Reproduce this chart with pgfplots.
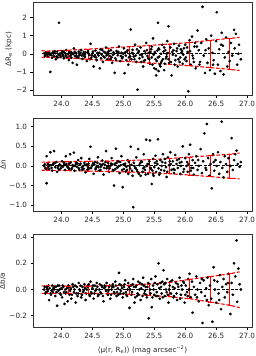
\documentclass[border=0pt]{standalone}
\usepackage{fontspec}
\setmainfont{DejaVu Sans}
\usepackage{pgfplots}
\usepackage{pgfplotstable}
\pgfplotsset{compat=1.18}

\pgfplotstableread[row sep=\\]{x y\\
23.72 0.02\\ 23.74 -0.08\\ 23.76 0.05\\ 23.78 -0.15\\ 23.80 0.10\\ 23.81 -0.05\\ 23.83 0.0\\ 23.85 -0.22\\ 23.86 0.08\\ 23.88 -0.12\\ 23.90 0.03\\ 23.91 -0.3\\ 23.93 0.12\\ 23.95 -0.06\\ 23.96 1.71\\ 23.82 -1.0\\ 23.97 0.0\\ 23.99 -0.18\\ 24.01 0.15\\ 24.02 -0.04\\ 24.04 -0.25\\ 24.05 0.06\\ 24.07 -0.1\\ 24.08 0.2\\ 24.10 -0.02\\ 24.12 -0.35\\ 24.13 0.1\\ 24.15 -0.08\\ 24.17 0.02\\ 24.18 -0.5\\ 24.20 0.3\\ 24.22 -0.14\\ 24.23 0.05\\ 24.25 -0.6\\ 24.27 -0.2\\ 24.28 0.12\\ 24.30 -0.05\\ 24.32 0.2\\ 24.34 -0.28\\ 24.35 0.0\\ 24.37 -0.12\\ 24.39 0.08\\ 24.41 -0.4\\ 24.43 0.15\\ 24.45 -0.06\\ 24.47 0.55\\ 24.48 -0.22\\ 24.50 0.02\\ 24.52 -0.7\\ 24.53 -0.15\\ 24.55 0.18\\ 24.57 -0.35\\ 24.58 0.05\\ 24.60 -0.1\\ 24.62 -0.8\\ 24.63 0.25\\ 24.65 -0.05\\ 24.67 -0.45\\ 24.69 0.1\\ 24.70 -0.2\\ 24.72 0.35\\ 24.74 -0.3\\ 24.76 0.0\\ 24.78 -0.12\\ 24.80 0.2\\ 24.82 -0.5\\ 24.84 0.08\\ 24.86 -1.05\\ 24.87 -0.25\\ 24.89 0.15\\ 24.91 -0.08\\ 24.93 0.4\\ 24.95 -0.4\\ 24.97 0.05\\ 24.99 -0.18\\ 25.01 0.3\\ 25.02 -1.07\\ 25.04 -0.1\\ 25.06 0.12\\ 25.08 -0.6\\ 25.10 0.0\\ 25.12 1.34\\ 25.13 -0.3\\ 25.15 0.22\\ 25.17 -0.15\\ 25.19 0.5\\ 25.21 -0.45\\ 25.23 -1.98\\ 25.24 0.08\\ 25.26 -0.25\\ 25.28 0.35\\ 25.30 -0.05\\ 25.32 -0.7\\ 25.34 0.15\\ 25.35 -0.35\\ 25.37 0.6\\ 25.39 -0.12\\ 25.41 0.05\\ 25.43 -0.55\\ 25.45 0.25\\ 25.46 -0.2\\ 25.48 0.85\\ 25.50 -0.8\\ 25.51 0.1\\ 25.53 -1.19\\ 25.54 -0.4\\ 25.56 1.71\\ 25.57 0.3\\ 25.59 -0.6\\ 25.61 0.0\\ 25.63 0.5\\ 25.64 -0.3\\ 25.66 -0.9\\ 25.68 0.2\\ 25.70 -0.15\\ 25.71 0.7\\ 25.73 1.52\\ 25.74 -0.5\\ 25.76 0.35\\ 25.78 -1.19\\ 25.80 -0.05\\ 25.82 0.55\\ 25.84 -0.35\\ 25.86 0.15\\ 25.88 -0.7\\ 25.90 0.45\\ 25.92 -0.2\\ 25.94 0.05\\ 25.96 -0.55\\ 25.98 0.3\\ 26.00 0.5\\ 26.02 -0.4\\ 26.04 0.1\\ 26.05 -2.07\\ 26.07 0.75\\ 26.09 -0.6\\ 26.11 0.95\\ 26.13 -0.25\\ 26.15 0.4\\ 26.17 -0.8\\ 26.20 1.28\\ 26.22 0.2\\ 26.24 -0.45\\ 26.26 0.6\\ 26.28 2.59\\ 26.30 -0.1\\ 26.32 -1.06\\ 26.34 0.8\\ 26.36 -0.5\\ 26.38 0.3\\ 26.40 -0.9\\ 26.42 1.0\\ 26.44 0.05\\ 26.46 -0.35\\ 26.48 -1.1\\ 26.50 0.7\\ 26.51 2.29\\ 26.53 -0.6\\ 26.55 0.25\\ 26.57 -0.95\\ 26.59 1.16\\ 26.61 0.45\\ 26.62 -1.14\\ 26.64 -0.2\\ 26.66 0.9\\ 26.68 -0.7\\ 26.70 0.1\\ 26.72 -0.4\\ 26.74 0.6\\ 26.76 -0.1\\ 26.79 1.32\\ 26.80 0.3\\ 26.82 1.1\\ 26.84 -0.6\\ 26.86 0.0\\ 26.87 0.5\\ 26.90 -0.3\\
24.06 0.02\\ 24.14 -0.12\\ 24.24 0.04\\ 24.33 -0.1\\ 24.44 0.02\\ 24.54 -0.08\\ 24.61 0.06\\ 24.68 -0.15\\ 24.75 0.1\\ 24.83 -0.06\\ 24.90 0.05\\ 24.96 -0.12\\ 25.03 0.08\\ 25.09 -0.2\\ 25.14 0.05\\ 25.20 -0.1\\ 25.25 0.15\\ 25.31 -0.18\\ 25.36 0.02\\ 25.40 -0.25\\ 25.44 0.1\\ 25.49 -0.05\\ 25.52 -0.3\\ 25.55 0.18\\ 25.58 -0.15\\ 25.62 -0.4\\ 25.65 0.12\\ 25.69 -0.25\\ 25.72 0.05\\ 25.77 -0.45\\ 25.81 0.2\\ 25.85 -0.1\\ 25.89 -0.3\\ 25.93 0.25\\ 25.97 -0.05\\ 26.01 -0.2\\ 26.08 0.15\\ 26.14 -0.45\\ 26.19 0.4\\ 25.47 -0.6\\ 25.60 -0.7\\ 25.67 -0.55\\ 25.33 -0.4\\ 25.53 -0.85\\ 25.57 -0.95\\ 24.79 -0.3\\ 24.66 0.2\\ 24.46 -0.3\\ 24.36 0.1\\ 24.26 -0.2\\ 24.16 0.08\\ 23.98 -0.1\\ 23.87 0.02\\ 23.77 -0.04\\ 23.92 -0.15\\ 24.03 0.1\\ 24.09 -0.2\\ 24.19 -0.02\\ 24.29 -0.08\\ 24.38 -0.02\\
23.73 -0.12\\ 23.75 0.08\\ 23.79 0.0\\ 23.84 -0.08\\ 23.89 0.14\\ 23.94 -0.2\\ 24.00 0.05\\ 24.03 -0.14\\ 24.11 0.0\\ 24.16 -0.22\\ 24.21 0.1\\ 24.24 -0.1\\ 24.31 0.05\\ 24.38 -0.18\\ 24.42 0.06\\ 24.49 -0.1\\ 24.51 0.12\\ 24.56 -0.2\\ 24.59 0.0\\ 24.64 -0.25\\ 24.71 0.05\\ 24.73 -0.08\\ 24.77 0.15\\ 24.81 -0.2\\ 24.85 0.0\\ 24.88 -0.35\\ 24.92 0.1\\ 24.98 -0.25\\ 25.00 0.0\\ 25.05 -0.35\\ 25.07 0.2\\ 25.11 -0.15\\ 25.16 0.0\\ 25.18 -0.3\\ 25.22 0.25\\ 25.27 -0.05\\ 25.29 -0.45\\ 25.38 0.2\\ 25.42 -0.3\\ 25.46 0.4\\ 25.50 0.0\\ 25.56 -0.2\\ 25.58 0.25\\ 25.61 -0.5\\ 25.66 0.35\\ 25.70 0.0\\ 25.73 -0.3\\ 25.79 0.1\\ 25.83 -0.6\\ 25.87 0.3\\ 25.91 -0.45\\ 25.95 0.15\\ 25.99 -0.3\\ 26.03 0.35\\ 26.12 -0.1\\ 26.16 0.6\\ 26.23 -0.6\\ 26.33 0.2\\ 26.45 -0.6\\ 26.58 0.5\\
}\dataA

\pgfplotstableread[row sep=\\]{x y\\
23.72 0.0\\ 23.74 -0.05\\ 23.76 0.25\\ 23.76 -0.44\\ 23.78 0.05\\ 23.80 -0.08\\ 23.82 0.35\\ 23.83 0.02\\ 23.85 -0.12\\ 23.87 0.06\\ 23.88 0.38\\ 23.90 -0.03\\ 23.92 0.1\\ 23.93 -0.15\\ 23.95 0.0\\ 23.97 0.04\\ 23.99 -0.06\\ 24.01 0.12\\ 24.02 -0.02\\ 24.04 0.08\\ 24.06 -0.1\\ 24.07 0.25\\ 24.09 0.0\\ 24.11 -0.04\\ 24.13 0.06\\ 24.14 0.3\\ 24.16 -0.08\\ 24.18 0.02\\ 24.20 0.34\\ 24.21 -0.12\\ 24.23 0.05\\ 24.25 -0.02\\ 24.27 0.15\\ 24.28 -0.06\\ 24.30 0.03\\ 24.32 0.2\\ 24.34 -0.1\\ 24.35 0.0\\ 24.37 0.08\\ 24.39 -0.16\\ 24.41 0.04\\ 24.43 -0.03\\ 24.45 0.18\\ 24.47 0.49\\ 24.48 -0.05\\ 24.50 0.02\\ 24.52 -0.2\\ 24.54 0.1\\ 24.55 -0.08\\ 24.57 0.0\\ 24.59 0.22\\ 24.61 -0.12\\ 24.62 0.05\\ 24.64 -0.02\\ 24.66 0.14\\ 24.68 -0.22\\ 24.70 0.03\\ 24.72 0.38\\ 24.73 -0.06\\ 24.75 0.08\\ 24.77 -0.15\\ 24.79 0.0\\ 24.81 0.2\\ 24.83 -0.1\\ 24.85 -0.5\\ 24.86 0.05\\ 24.88 0.44\\ 24.90 -0.04\\ 24.92 0.12\\ 24.94 -0.18\\ 24.96 0.02\\ 24.97 0.25\\ 24.99 -0.54\\ 25.01 -0.08\\ 25.03 0.06\\ 25.05 -0.02\\ 25.07 0.15\\ 25.08 -0.2\\ 25.10 0.0\\ 25.12 0.49\\ 25.14 -0.12\\ 25.16 -1.05\\ 25.17 0.08\\ 25.19 -0.05\\ 25.21 0.22\\ 25.23 -0.15\\ 25.24 0.43\\ 25.26 0.02\\ 25.28 -0.25\\ 25.30 0.1\\ 25.32 -0.06\\ 25.33 0.3\\ 25.35 -0.1\\ 25.37 0.67\\ 25.38 0.0\\ 25.40 -0.2\\ 25.42 0.12\\ 25.43 0.65\\ 25.45 -0.08\\ 25.46 -0.46\\ 25.48 0.18\\ 25.50 -0.03\\ 25.52 0.26\\ 25.53 -0.15\\ 25.55 0.05\\ 25.56 0.68\\ 25.58 -0.22\\ 25.60 0.15\\ 25.62 0.0\\ 25.64 0.3\\ 25.66 -0.12\\ 25.68 0.08\\ 25.70 -0.28\\ 25.72 0.22\\ 25.74 0.02\\ 25.76 0.35\\ 25.78 -0.1\\ 25.80 0.12\\ 25.82 -0.18\\ 25.84 0.28\\ 25.86 0.05\\ 25.88 -0.05\\ 25.90 0.18\\ 25.92 -0.2\\ 25.94 0.1\\ 25.96 0.5\\ 25.98 -0.08\\ 26.00 0.2\\ 26.02 0.0\\ 26.04 -0.15\\ 26.06 0.3\\ 26.08 0.54\\ 26.10 -0.05\\ 26.12 0.15\\ 26.14 -0.22\\ 26.16 0.08\\ 26.18 0.25\\ 26.20 -0.1\\ 26.22 0.0\\ 26.25 0.43\\ 26.27 -0.18\\ 26.29 0.12\\ 26.31 0.83\\ 26.33 -0.05\\ 26.35 1.07\\ 26.37 0.2\\ 26.39 -0.25\\ 26.41 0.05\\ 26.43 -0.57\\ 26.45 0.3\\ 26.47 -0.12\\ 26.49 0.15\\ 26.51 0.0\\ 26.53 0.35\\ 26.55 -0.2\\ 26.57 0.1\\ 26.59 1.13\\ 26.60 -0.05\\ 26.62 -0.29\\ 26.64 0.25\\ 26.66 0.05\\ 26.68 -0.15\\ 26.70 0.2\\ 26.73 0.0\\ 26.75 0.71\\ 26.77 -0.1\\ 26.79 0.15\\ 26.81 0.3\\ 26.83 0.39\\ 26.85 0.05\\ 26.88 -0.02\\ 26.90 0.1\\
23.79 -0.02\\ 23.86 0.03\\ 23.94 -0.05\\ 24.00 0.0\\ 24.05 0.03\\ 24.12 -0.07\\ 24.19 0.0\\ 24.26 0.06\\ 24.33 -0.04\\ 24.40 0.02\\ 24.46 -0.06\\ 24.53 0.04\\ 24.60 -0.03\\ 24.67 0.05\\ 24.74 -0.02\\ 24.80 0.06\\ 24.87 -0.08\\ 24.93 0.0\\ 25.00 0.04\\ 25.06 -0.1\\ 25.13 0.03\\ 25.20 -0.06\\ 25.27 0.07\\ 25.34 -0.03\\ 25.41 0.05\\ 25.47 -0.12\\ 25.51 0.08\\ 25.57 -0.06\\ 25.63 0.1\\ 25.69 -0.03\\ 25.75 0.12\\ 25.81 -0.08\\ 25.87 0.15\\ 25.93 0.0\\ 26.03 0.1\\ 26.09 -0.12\\ 25.36 -0.22\\ 25.49 -0.25\\ 25.59 -0.18\\ 25.25 -0.2\\ 25.15 -0.25\\
23.73 0.04\\ 23.75 -0.07\\ 23.81 0.02\\ 23.84 -0.05\\ 23.89 0.07\\ 23.96 -0.09\\ 24.03 0.0\\ 24.08 0.05\\ 24.10 -0.03\\ 24.15 0.09\\ 24.17 -0.05\\ 24.22 0.0\\ 24.24 0.08\\ 24.29 -0.1\\ 24.31 0.06\\ 24.36 -0.07\\ 24.38 0.03\\ 24.42 -0.09\\ 24.44 0.06\\ 24.49 0.0\\ 24.51 0.07\\ 24.56 -0.04\\ 24.58 0.08\\ 24.63 -0.1\\ 24.65 0.02\\ 24.69 -0.05\\ 24.71 0.1\\ 24.76 0.0\\ 24.78 -0.06\\ 24.82 0.04\\ 24.84 -0.12\\ 24.89 0.08\\ 24.91 -0.03\\ 24.95 0.1\\ 24.98 -0.1\\ 25.02 0.02\\ 25.04 -0.14\\ 25.09 0.1\\ 25.11 -0.06\\ 25.18 0.0\\ 25.22 -0.1\\ 25.29 0.12\\ 25.31 -0.15\\ 25.39 0.05\\ 25.44 -0.05\\ 25.48 -0.2\\ 25.54 0.12\\ 25.61 -0.1\\ 25.67 0.18\\ 25.71 -0.15\\ 25.77 0.05\\ 25.83 -0.1\\ 25.91 0.08\\ 25.97 -0.15\\ 26.05 0.05\\ 26.13 -0.05\\ 26.21 0.15\\ 26.34 -0.1\\ 26.46 0.1\\
}\dataB

\pgfplotstableread[row sep=\\]{x y\\
23.72 0.0\\ 23.74 -0.03\\ 23.76 0.02\\ 23.78 -0.01\\ 23.80 -0.081\\ 23.81 0.01\\ 23.83 -0.04\\ 23.85 0.03\\ 23.86 -0.02\\ 23.88 0.0\\ 23.90 -0.05\\ 23.91 0.02\\ 23.93 -0.124\\ 23.95 -0.01\\ 23.96 0.03\\ 23.98 -0.03\\ 24.00 0.01\\ 24.01 -0.06\\ 24.03 0.02\\ 24.05 -0.11\\ 24.06 0.0\\ 24.08 -0.02\\ 24.10 -0.09\\ 24.11 0.03\\ 24.13 -0.04\\ 24.15 0.01\\ 24.16 -0.07\\ 24.18 0.04\\ 24.20 -0.02\\ 24.21 0.0\\ 24.23 -0.1\\ 24.25 0.02\\ 24.27 -0.03\\ 24.28 0.05\\ 24.30 -0.01\\ 24.32 -0.06\\ 24.34 0.02\\ 24.35 -0.02\\ 24.37 0.04\\ 24.39 -0.08\\ 24.41 0.0\\ 24.43 0.03\\ 24.45 -0.04\\ 24.47 0.06\\ 24.48 -0.02\\ 24.50 0.01\\ 24.52 -0.07\\ 24.54 0.03\\ 24.55 -0.01\\ 24.57 0.05\\ 24.59 -0.05\\ 24.61 0.0\\ 24.62 0.04\\ 24.64 -0.03\\ 24.66 0.02\\ 24.68 -0.09\\ 24.70 0.03\\ 24.72 -0.01\\ 24.73 0.05\\ 24.75 -0.04\\ 24.77 0.02\\ 24.79 -0.07\\ 24.81 0.0\\ 24.83 0.04\\ 24.85 -0.02\\ 24.87 0.06\\ 24.89 -0.05\\ 24.91 0.01\\ 24.93 0.127\\ 24.95 -0.03\\ 24.97 0.03\\ 24.99 -0.06\\ 25.01 0.02\\ 25.03 0.07\\ 25.05 -0.04\\ 25.07 0.0\\ 25.08 0.05\\ 25.10 -0.14\\ 25.12 0.03\\ 25.14 -0.02\\ 25.16 0.08\\ 25.18 -0.1\\ 25.20 0.02\\ 25.22 -0.05\\ 25.24 0.06\\ 25.26 0.0\\ 25.28 -0.08\\ 25.30 0.04\\ 25.32 0.09\\ 25.34 -0.03\\ 25.36 0.02\\ 25.38 -0.06\\ 25.40 0.05\\ 25.41 -0.22\\ 25.43 0.0\\ 25.45 0.08\\ 25.46 -0.135\\ 25.48 0.03\\ 25.50 -0.04\\ 25.52 0.1\\ 25.54 -0.02\\ 25.55 0.04\\ 25.57 0.2\\ 25.59 -0.07\\ 25.61 0.02\\ 25.63 0.06\\ 25.65 0.147\\ 25.67 -0.05\\ 25.69 0.0\\ 25.71 0.08\\ 25.73 -0.1\\ 25.75 0.03\\ 25.77 -0.03\\ 25.79 0.07\\ 25.81 -0.06\\ 25.83 0.01\\ 25.85 0.05\\ 25.87 -0.08\\ 25.89 0.02\\ 25.91 0.09\\ 25.93 -0.04\\ 25.95 0.0\\ 25.97 0.06\\ 25.99 -0.1\\ 26.01 0.03\\ 26.03 -0.02\\ 26.05 0.08\\ 26.07 0.12\\ 26.09 -0.06\\ 26.12 -0.177\\ 26.14 0.02\\ 26.16 -0.04\\ 26.18 0.1\\ 26.20 0.0\\ 26.22 -0.09\\ 26.24 0.05\\ 26.26 -0.02\\ 26.28 -0.256\\ 26.30 0.07\\ 26.32 -0.05\\ 26.34 0.01\\ 26.36 0.09\\ 26.38 -0.12\\ 26.40 0.03\\ 26.42 -0.07\\ 26.44 -0.246\\ 26.46 0.17\\ 26.48 0.0\\ 26.50 -0.1\\ 26.52 0.06\\ 26.54 -0.03\\ 26.56 0.11\\ 26.58 -0.15\\ 26.60 0.02\\ 26.62 0.08\\ 26.64 -0.06\\ 26.66 0.04\\ 26.68 -0.02\\ 26.70 0.12\\ 26.73 -0.187\\ 26.75 0.05\\ 26.77 -0.04\\ 26.79 0.2\\ 26.81 0.1\\ 26.83 0.375\\ 26.84 -0.094\\ 26.86 0.16\\ 26.88 0.04\\ 26.90 0.0\\
23.77 0.01\\ 23.84 -0.01\\ 23.89 0.02\\ 23.97 0.0\\ 24.04 -0.02\\ 24.09 0.01\\ 24.14 -0.01\\ 24.19 0.02\\ 24.24 -0.03\\ 24.29 0.0\\ 24.36 -0.01\\ 24.42 0.02\\ 24.49 -0.03\\ 24.56 0.0\\ 24.63 -0.02\\ 24.69 0.01\\ 24.76 -0.01\\ 24.84 0.02\\ 24.90 -0.02\\ 24.98 0.01\\ 25.04 -0.02\\ 25.11 0.0\\ 25.17 0.02\\ 25.23 -0.03\\ 25.29 0.01\\ 25.35 -0.01\\ 25.39 0.02\\ 25.44 -0.03\\ 25.49 0.0\\ 25.53 -0.05\\ 25.58 0.01\\ 25.62 -0.03\\ 25.66 0.04\\ 25.70 -0.02\\ 25.74 0.0\\ 25.80 0.02\\ 25.86 -0.03\\ 25.94 0.03\\ 26.00 -0.04\\ 26.06 0.0\\
23.73 0.02\\ 23.75 -0.02\\ 23.79 0.03\\ 23.82 -0.03\\ 23.87 0.01\\ 23.92 -0.02\\ 23.94 0.03\\ 23.99 -0.04\\ 24.02 0.03\\ 24.07 -0.03\\ 24.12 0.02\\ 24.17 -0.04\\ 24.22 0.03\\ 24.26 -0.05\\ 24.31 0.03\\ 24.33 -0.04\\ 24.38 0.01\\ 24.40 -0.03\\ 24.44 0.04\\ 24.46 -0.05\\ 24.51 0.03\\ 24.53 -0.03\\ 24.58 0.02\\ 24.60 -0.04\\ 24.65 0.03\\ 24.67 -0.05\\ 24.71 0.02\\ 24.74 -0.03\\ 24.78 0.03\\ 24.80 -0.04\\ 24.82 0.02\\ 24.86 -0.03\\ 24.88 0.03\\ 24.92 -0.04\\ 24.94 0.04\\ 24.96 -0.01\\ 25.00 -0.03\\ 25.02 0.04\\ 25.06 -0.05\\ 25.09 0.02\\ 25.13 -0.04\\ 25.15 0.04\\ 25.19 -0.06\\ 25.21 0.03\\ 25.25 -0.04\\ 25.27 0.05\\ 25.31 -0.05\\ 25.33 0.03\\ 25.37 -0.04\\ 25.42 0.04\\ 25.47 -0.06\\ 25.51 0.05\\ 25.56 -0.05\\ 25.60 0.05\\ 25.64 -0.06\\ 25.68 0.05\\ 25.72 -0.04\\ 25.76 0.06\\ 25.82 -0.05\\ 25.88 0.04\\ 25.92 -0.07\\ 25.98 0.05\\ 26.04 -0.05\\ 26.11 0.06\\ 26.19 -0.06\\ 26.27 0.08\\ 26.35 -0.08\\ 26.47 0.07\\ 26.55 -0.08\\ 26.69 0.05\\
}\dataC

\pgfplotsset{
  myax/.style={
    scale only axis, width=219pt, height=93pt,
    anchor=south west,
    xmin=23.54, xmax=27.08,
    xtick={24,24.5,25,25.5,26,26.5,27},
    xticklabels={24.0,24.5,25.0,25.5,26.0,26.5,27.0},
    tick align=outside, xtick pos=bottom, ytick pos=left,
    major tick length=2.5pt,
    every tick/.style={black, line width=0.5pt},
    axis line style={line width=0.5pt, black!80},
    tick label style={font=\fontsize{7.2pt}{8.6pt}\selectfont, text=black!85},
    label style={font=\fontsize{7.2pt}{8.6pt}\selectfont, text=black!85},
    clip=true,
  },
  pts/.style={only marks, mark=*, mark size=1.15pt, black},
  env/.style={red, line width=1.1pt, dash pattern=on 3.5pt off 1.8pt},
  zero/.style={black, line width=1pt, dash pattern=on 3pt off 1.5pt},
  ebar/.style={red, line width=0.7pt, mark=-, mark size=2pt, mark options={solid, red, line width=0.7pt}},
}
\newcommand\eb[3]{\addplot[ebar] coordinates {(#1,#2) (#1,#3)};}

\begin{document}
\begin{tikzpicture}
\path[use as bounding box] (0,0) rectangle (256pt,356pt);

% Panel 1
\begin{axis}[myax, at={(33pt,260.5pt)},
  ymin=-2.3, ymax=2.83,
  ytick={-2,-1,0,1,2}, yticklabels={−2,−1,0,1,2},
  ylabel={ΔR\textsubscript{e} (kpc)}, ylabel shift=-3pt]
\addplot[pts] table {\dataA};
\addplot[zero] coordinates {(23.68,0) (26.92,0)};
\addplot[env] coordinates {(23.68,0.17) (23.78,0.15) (24.11,0.2) (24.43,0.26) (24.75,0.32) (25.09,0.39) (25.42,0.46) (25.75,0.54) (26.07,0.62) (26.40,0.74) (26.72,0.85) (26.88,0.91)};
\addplot[env] coordinates {(23.68,-0.2) (23.78,-0.18) (24.11,-0.23) (24.43,-0.3) (24.75,-0.37) (25.09,-0.43) (25.42,-0.5) (25.75,-0.58) (26.07,-0.66) (26.40,-0.76) (26.72,-0.86) (26.88,-0.92)};
\eb{23.78}{-0.18}{0.15}
\eb{24.11}{-0.23}{0.2}
\eb{24.43}{-0.3}{0.26}
\eb{24.75}{-0.37}{0.32}
\eb{25.09}{-0.43}{0.39}
\eb{25.42}{-0.5}{0.46}
\eb{25.75}{-0.58}{0.54}
\eb{26.07}{-0.66}{0.62}
\eb{26.40}{-0.76}{0.74}
\eb{26.72}{-0.86}{0.85}
\end{axis}

% Panel 2
\begin{axis}[myax, at={(33pt,144.5pt)},
  ymin=-1.16, ymax=1.21,
  ytick={-1,-0.5,0,0.5,1}, yticklabels={−1.0,−0.5,0.0,0.5,1.0},
  ylabel={Δn}, ylabel shift=-3pt]
\addplot[pts] table {\dataB};
\addplot[zero] coordinates {(23.68,0) (26.92,0)};
\addplot[env] coordinates {(23.68,0.1) (23.78,0.1) (24.11,0.11) (24.43,0.12) (24.75,0.13) (25.09,0.14) (25.42,0.16) (25.75,0.19) (26.07,0.23) (26.40,0.26) (26.72,0.3) (26.88,0.33)};
\addplot[env] coordinates {(23.68,-0.11) (23.78,-0.11) (24.11,-0.12) (24.43,-0.13) (24.75,-0.14) (25.09,-0.15) (25.42,-0.17) (25.75,-0.2) (26.07,-0.23) (26.40,-0.27) (26.72,-0.31) (26.88,-0.33)};
\eb{23.78}{-0.11}{0.1}
\eb{24.11}{-0.12}{0.11}
\eb{24.43}{-0.13}{0.12}
\eb{24.75}{-0.14}{0.13}
\eb{25.09}{-0.15}{0.14}
\eb{25.42}{-0.17}{0.16}
\eb{25.75}{-0.2}{0.19}
\eb{26.07}{-0.23}{0.23}
\eb{26.40}{-0.27}{0.26}
\eb{26.72}{-0.31}{0.3}
\end{axis}

% Panel 3
\begin{axis}[myax, at={(33pt,28.5pt)},
  ymin=-0.29, ymax=0.42,
  ytick={-0.2,0,0.2,0.4}, yticklabels={−0.2,0.0,0.2,0.4},
  ylabel={Δb/a}, ylabel shift=-3pt,
  xlabel={⟨μ(r, R\textsubscript{e})⟩ (mag arcsec\textsuperscript{−2})}]
\addplot[pts] table {\dataC};
\addplot[zero] coordinates {(23.68,0) (26.92,0)};
\addplot[env] coordinates {(23.68,0.028) (23.78,0.028) (24.11,0.027) (24.43,0.027) (24.75,0.028) (25.09,0.033) (25.42,0.042) (25.75,0.055) (26.07,0.077) (26.40,0.098) (26.72,0.12) (26.88,0.135)};
\addplot[env] coordinates {(23.68,-0.03) (23.78,-0.03) (24.11,-0.03) (24.43,-0.03) (24.75,-0.031) (25.09,-0.036) (25.42,-0.045) (25.75,-0.055) (26.07,-0.07) (26.40,-0.095) (26.72,-0.12) (26.88,-0.138)};
\eb{23.78}{-0.03}{0.028}
\eb{24.11}{-0.03}{0.027}
\eb{24.43}{-0.03}{0.027}
\eb{24.75}{-0.031}{0.028}
\eb{25.09}{-0.036}{0.033}
\eb{25.42}{-0.045}{0.042}
\eb{25.75}{-0.055}{0.055}
\eb{26.07}{-0.07}{0.077}
\eb{26.40}{-0.095}{0.098}
\eb{26.72}{-0.12}{0.12}
\end{axis}
\end{tikzpicture}
\end{document}
